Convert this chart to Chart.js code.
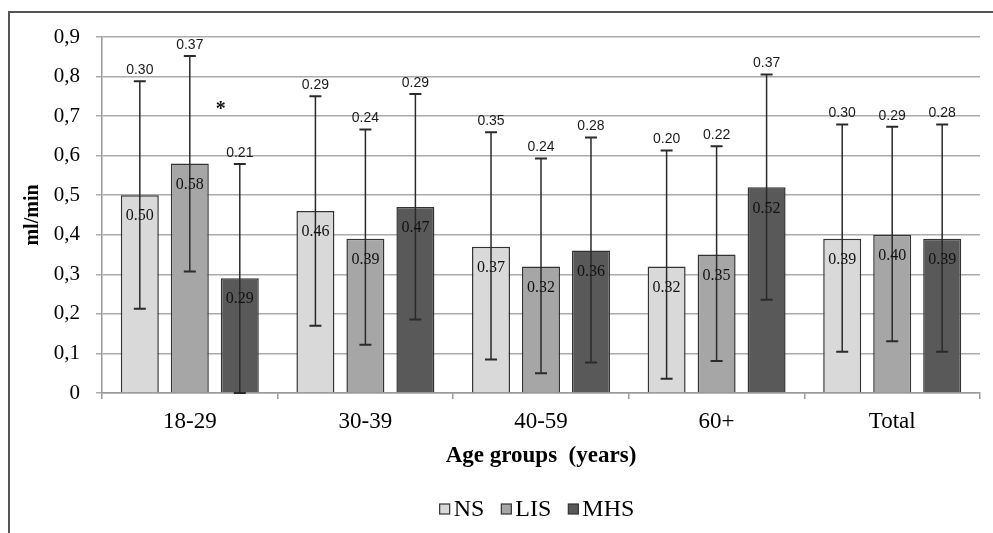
<!DOCTYPE html>
<html>
<head>
<meta charset="utf-8">
<script src="https://cdn.jsdelivr.net/npm/chart.js@4.4.0/dist/chart.umd.min.js"></script>
<style>
  html, body { margin: 0; padding: 0; background: #ffffff; }
  #wrap { position: relative; width: 993px; height: 533px; overflow: hidden; }
  canvas { display: block; }
</style>
</head>
<body>
<div id="wrap"><canvas id="c" width="993" height="533"></canvas></div>
<script>
// ---- data ----
const categories = ['18-29', '30-39', '40-59', '60+', 'Total'];
const seriesNames = ['NS', 'LIS', 'MHS'];
const nsMean  = [0.50, 0.46, 0.37, 0.32, 0.39];
const lisMean = [0.58, 0.39, 0.32, 0.35, 0.40];
const mhsMean = [0.29, 0.47, 0.36, 0.52, 0.39];
// SD labels printed above the error bars
const nsSd  = ['0.30', '0.29', '0.35', '0.20', '0.30'];
const lisSd = ['0.37', '0.24', '0.24', '0.22', '0.29'];
const mhsSd = ['0.21', '0.29', '0.28', '0.37', '0.28'];
// error bar ends as drawn in the reference
const nsLow   = [0.213, 0.170, 0.085, 0.036, 0.104];
const nsHigh  = [0.788, 0.750, 0.659, 0.613, 0.679];
const lisLow  = [0.307, 0.122, 0.050, 0.081, 0.131];
const lisHigh = [0.852, 0.666, 0.593, 0.624, 0.673];
const mhsLow  = [0.000, 0.186, 0.077, 0.236, 0.104];
const mhsHigh = [0.579, 0.756, 0.646, 0.805, 0.679];
const yTickLabels = ['0', '0,1', '0,2', '0,3', '0,4', '0,5', '0,6', '0,7', '0,8', '0,9'];
const yMax = 0.9;
// significance marker
const asteriskCategory = 0;
const asteriskValue = 0.725;

const colors = ['#d9d9d9', '#a6a6a6', '#595959'];
const means = [nsMean, lisMean, mhsMean];
const sds = [nsSd, lisSd, mhsSd];
const lows = [nsLow, lisLow, mhsLow];
const highs = [nsHigh, lisHigh, mhsHigh];

const SERIF = '"Liberation Serif", "Times New Roman", serif';
const SANS = '"Liberation Sans", Arial, sans-serif';

const decor = {
  id: 'decor',
  beforeDraw(chart) {
    const ctx = chart.ctx;
    ctx.save();
    ctx.fillStyle = '#ffffff';
    ctx.fillRect(0, 0, chart.width, chart.height);
    ctx.strokeStyle = '#555555';
    ctx.lineWidth = 2;
    ctx.strokeRect(9, 12, 1100, 600);
    ctx.restore();
  },
  afterDatasetsDraw(chart) {
    const ctx = chart.ctx;
    const y = chart.scales.y;
    ctx.save();
    for (let d = 0; d < 3; d++) {
      const meta = chart.getDatasetMeta(d);
      meta.data.forEach((bar, j) => {
        const x = bar.x;
        const yl = y.getPixelForValue(lows[d][j]);
        const yh = y.getPixelForValue(highs[d][j]);
        ctx.strokeStyle = '#2a2a2a';
        ctx.lineWidth = 1.5;
        ctx.beginPath();
        ctx.moveTo(x, yl); ctx.lineTo(x, yh);
        ctx.stroke();
        ctx.lineWidth = 2;
        ctx.beginPath();
        ctx.moveTo(x - 6, yh); ctx.lineTo(x + 6, yh);
        ctx.moveTo(x - 6, yl); ctx.lineTo(x + 6, yl);
        ctx.stroke();
        // SD label
        ctx.fillStyle = '#1a1a1a';
        ctx.font = '14px ' + SANS;
        ctx.textAlign = 'center';
        ctx.textBaseline = 'middle';
        ctx.fillText(sds[d][j], x, yh - 11);
        // mean label inside bar
        ctx.fillStyle = '#111111';
        ctx.font = '16px ' + SERIF;
        ctx.fillText(means[d][j].toFixed(2), x, bar.y + 21);
      });
    }
    // asterisk
    const mb = chart.getDatasetMeta(2).data[asteriskCategory];
    ctx.fillStyle = '#111111';
    ctx.font = 'bold 20px ' + SERIF;
    ctx.textAlign = 'center';
    ctx.textBaseline = 'middle';
    ctx.fillText('*', mb.x - 19, y.getPixelForValue(asteriskValue) + 4);
    ctx.restore();
  },
  afterDraw(chart) {
    const ctx = chart.ctx;
    const area = chart.chartArea;
    ctx.save();
    ctx.fillStyle = '#000000';
    // y title
    ctx.font = 'bold 20px ' + SERIF;
    ctx.textAlign = 'center';
    ctx.textBaseline = 'alphabetic';
    ctx.translate(38, (area.top + area.bottom) / 2);
    ctx.rotate(-Math.PI / 2);
    ctx.fillText('ml/min', 0, 0);
    ctx.restore();
    ctx.save();
    ctx.fillStyle = '#000000';
    ctx.font = 'bold 23px ' + SERIF;
    ctx.textAlign = 'center';
    ctx.textBaseline = 'middle';
    ctx.fillText('Age groups  (years)', (area.left + area.right) / 2, 456);
    // legend
    ctx.font = '24px ' + SERIF;
    const box = 10, gapBT = 4, gapItem = 17;
    const widths = seriesNames.map(n => ctx.measureText(n).width);
    let total = 0;
    widths.forEach((w, i) => { total += box + gapBT + w + (i < 2 ? gapItem : 0); });
    let lx = 537 - total / 2;
    const ly = 510;
    ctx.textAlign = 'left';
    seriesNames.forEach((n, i) => {
      ctx.fillStyle = colors[i];
      ctx.fillRect(lx, ly - box / 2 - 1, box, box);
      ctx.strokeStyle = '#333333';
      ctx.lineWidth = 1.2;
      ctx.strokeRect(lx, ly - box / 2 - 1, box, box);
      ctx.fillStyle = '#000000';
      ctx.fillText(n, lx + box + gapBT, ly);
      lx += box + gapBT + widths[i] + gapItem;
    });
    ctx.restore();
  }
};

new Chart(document.getElementById('c'), {
  type: 'bar',
  data: {
    labels: categories,
    datasets: seriesNames.map((n, i) => ({
      label: n,
      data: means[i],
      backgroundColor: colors[i],
      borderColor: '#333333',
      borderWidth: 1.5,
      categoryPercentage: 0.854,
      barPercentage: 0.76
    }))
  },
  options: {
    responsive: false,
    devicePixelRatio: 1,
    animation: false,
    layout: { padding: { left: 0, right: 13, top: 37, bottom: 0 } },
    plugins: { legend: { display: false }, tooltip: { enabled: false } },
    scales: {
      x: {
        afterFit: s => { s.height = 140; },
        grid: { offset: true, drawOnChartArea: false, drawTicks: true, tickLength: 6, color: '#999999', lineWidth: 1.5 },
        border: { color: '#999999', width: 1.5 },
        ticks: { font: { family: SERIF, size: 23 }, color: '#000000', padding: 9 }
      },
      y: {
        min: 0, max: yMax,
        afterFit: s => { s.width = 102; },
        afterBuildTicks: s => { s.ticks = yTickLabels.map((l, i) => ({ value: i / 10 })); },
        grid: { color: '#ababab', lineWidth: 1.5, tickLength: 6, drawTicks: true },
        border: { color: '#999999', width: 1.5 },
        ticks: {
          font: { family: SERIF, size: 21 }, color: '#000000', padding: 16,
          callback: (v, i) => yTickLabels[i]
        }
      }
    }
  },
  plugins: [decor]
});
</script>
</body>
</html>
